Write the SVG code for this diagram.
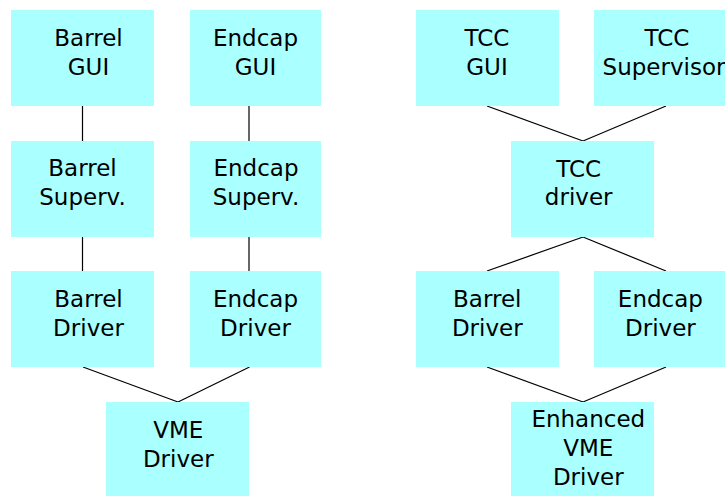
<svg xmlns="http://www.w3.org/2000/svg" width="725" height="496" viewBox="0 0 725 496">
  <style>
    .box { fill: #aaffff; }
    .lbl { font-family: "DejaVu Sans", sans-serif; font-size: 23px; fill: #000; text-anchor: middle; }
    .wire { stroke: #000; stroke-width: 1.2; fill: none; }
  </style>
  <rect width="725" height="496" fill="#ffffff"/>

  <!-- connectors -->
  <g id="connectors">
    <line class="wire" x1="82.5" y1="106" x2="82.5" y2="141"/>
    <line class="wire" x1="249" y1="106" x2="249" y2="141"/>
    <line class="wire" x1="82.5" y1="237" x2="82.5" y2="271"/>
    <line class="wire" x1="249" y1="237" x2="249" y2="271"/>
    <line class="wire" x1="83" y1="367" x2="178" y2="402"/>
    <line class="wire" x1="249.5" y1="367" x2="178" y2="402"/>
    <line class="wire" x1="487" y1="106" x2="583" y2="141"/>
    <line class="wire" x1="666" y1="106" x2="583" y2="141"/>
    <line class="wire" x1="583" y1="237" x2="487" y2="271"/>
    <line class="wire" x1="583" y1="237" x2="666" y2="271"/>
    <line class="wire" x1="487" y1="367" x2="583" y2="402"/>
    <line class="wire" x1="666" y1="367" x2="583" y2="402"/>
  </g>

  <!-- left stack -->
  <g id="barrel-gui">
    <rect class="box" x="11" y="10" width="143" height="96"/>
    <text class="lbl" x="88.5" y="45.7">Barrel</text>
    <text class="lbl" x="88.5" y="75">GUI</text>
  </g>
  <g id="endcap-gui">
    <rect class="box" x="190" y="10" width="131" height="96"/>
    <text class="lbl" x="255.5" y="45.7">Endcap</text>
    <text class="lbl" x="255.5" y="75">GUI</text>
  </g>
  <g id="barrel-superv">
    <rect class="box" x="11" y="141" width="143" height="96"/>
    <text class="lbl" x="82.5" y="176.3">Barrel</text>
    <text class="lbl" x="82.5" y="205.3">Superv.</text>
  </g>
  <g id="endcap-superv">
    <rect class="box" x="190" y="141" width="131" height="96"/>
    <text class="lbl" x="256" y="176.3">Endcap</text>
    <text class="lbl" x="256" y="205.3">Superv.</text>
  </g>
  <g id="barrel-driver">
    <rect class="box" x="11" y="271" width="143" height="96"/>
    <text class="lbl" x="88.5" y="307.3">Barrel</text>
    <text class="lbl" x="88.5" y="336.3">Driver</text>
  </g>
  <g id="endcap-driver">
    <rect class="box" x="190" y="271" width="131" height="96"/>
    <text class="lbl" x="255.5" y="307.3">Endcap</text>
    <text class="lbl" x="255.5" y="336.3">Driver</text>
  </g>
  <g id="vme-driver">
    <rect class="box" x="106" y="402" width="143" height="96"/>
    <text class="lbl" x="178.3" y="437.7">VME</text>
    <text class="lbl" x="178.3" y="467">Driver</text>
  </g>

  <!-- right stack -->
  <g id="tcc-gui">
    <rect class="box" x="416" y="10" width="143" height="96"/>
    <text class="lbl" x="487" y="45.7">TCC</text>
    <text class="lbl" x="487" y="75">GUI</text>
  </g>
  <g id="tcc-supervisor">
    <rect class="box" x="594" y="10" width="143" height="96"/>
    <text class="lbl" x="667" y="45.7">TCC</text>
    <text class="lbl" x="664" y="75">Supervisor</text>
  </g>
  <g id="tcc-driver">
    <rect class="box" x="511" y="141" width="143" height="96"/>
    <text class="lbl" x="578.7" y="176.6">TCC</text>
    <text class="lbl" x="578.7" y="205.3">driver</text>
  </g>
  <g id="tcc-barrel-driver">
    <rect class="box" x="416" y="271" width="143" height="96"/>
    <text class="lbl" x="487.3" y="307.3">Barrel</text>
    <text class="lbl" x="487.3" y="336.3">Driver</text>
  </g>
  <g id="tcc-endcap-driver">
    <rect class="box" x="594" y="271" width="143" height="96"/>
    <text class="lbl" x="660.4" y="307.3">Endcap</text>
    <text class="lbl" x="660.4" y="336.3">Driver</text>
  </g>
  <g id="enhanced-vme-driver">
    <rect class="box" x="511" y="402" width="143" height="96"/>
    <text class="lbl" x="588.3" y="426.7">Enhanced</text>
    <text class="lbl" x="588.3" y="455.7">VME</text>
    <text class="lbl" x="588.3" y="484.7">Driver</text>
  </g>
</svg>
